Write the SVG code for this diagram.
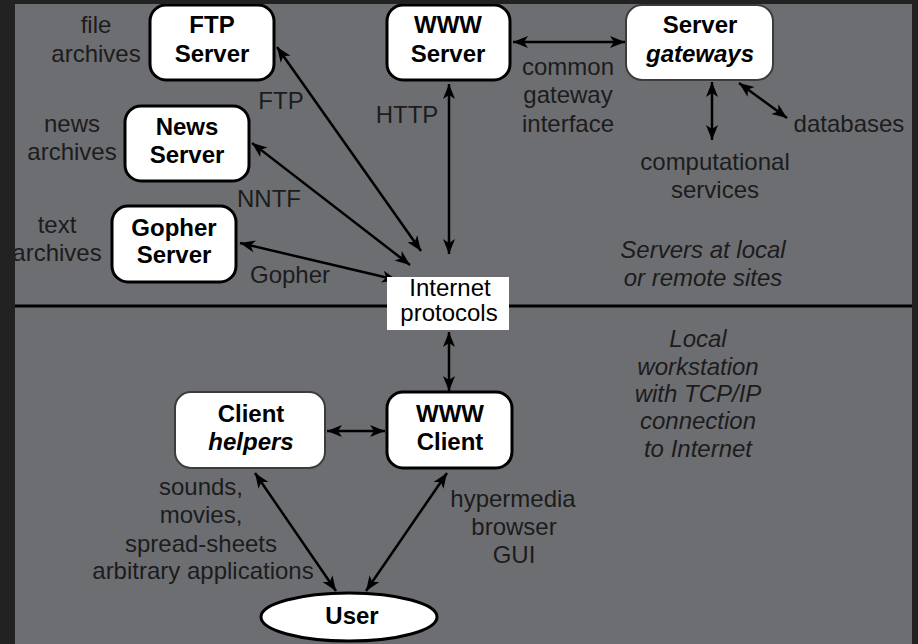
<svg xmlns="http://www.w3.org/2000/svg" width="918" height="644" viewBox="0 0 918 644">
<defs>
<style>
.lbl{font-family:"Liberation Sans",Arial,sans-serif;font-size:24px;fill:#1c1c1c;text-anchor:middle}
.it{font-style:italic}
.bt{font-family:"Liberation Sans",Arial,sans-serif;font-size:24px;font-weight:bold;fill:#000;text-anchor:middle}
.box{fill:#fff;stroke:#000;stroke-width:3}
.box2{fill:#fff;stroke:#3c3c3c;stroke-width:2}
.con{fill:none;stroke:#000;stroke-width:2.5;marker-start:url(#ah);marker-end:url(#ah)}
</style>
<marker id="ah" markerUnits="userSpaceOnUse" viewBox="-16 -7 18 14" refX="0" refY="0" markerWidth="18" markerHeight="14" orient="auto-start-reverse">
<path d="M0,0 L-15,-6 L-11,0 L-15,6 Z" fill="#000"/>
</marker>
</defs>
<rect x="0" y="0" width="918" height="644" fill="#6d6e72"/>
<line x1="15" y1="306" x2="912" y2="306" stroke="#000" stroke-width="3"/>

<g id="left-labels">
<text class="lbl" x="96" y="33">file</text>
<text class="lbl" x="96" y="62">archives</text>
<text class="lbl" x="72" y="132">news</text>
<text class="lbl" x="72" y="160">archives</text>
<text class="lbl" x="57" y="233">text</text>
<text class="lbl" x="57" y="261">archives</text>
</g>

<g id="connectors">
<line class="con" x1="277" y1="47" x2="421" y2="251"/>
<line class="con" x1="252" y1="143" x2="410" y2="265"/>
<line class="con" x1="240" y1="243" x2="397" y2="280"/>
<line class="con" x1="449" y1="84" x2="449" y2="254"/>
<line class="con" x1="513" y1="42" x2="625" y2="42"/>
<line class="con" x1="712" y1="82" x2="712" y2="140"/>
<line class="con" x1="739" y1="83" x2="787" y2="118"/>
<line class="con" x1="449" y1="332" x2="449" y2="391"/>
<line class="con" x1="327" y1="431" x2="385" y2="431"/>
<line class="con" x1="255" y1="473" x2="336" y2="591"/>
<line class="con" x1="447" y1="473" x2="366" y2="591"/>
<text class="lbl" x="281" y="109">FTP</text>
<text class="lbl" x="407" y="123">HTTP</text>
<text class="lbl" x="269" y="207">NNTF</text>
<text class="lbl" x="290" y="283">Gopher</text>
<text class="lbl" x="568" y="75">common</text>
<text class="lbl" x="568" y="103">gateway</text>
<text class="lbl" x="568" y="132">interface</text>
<text class="lbl" x="849" y="132">databases</text>
<text class="lbl" x="715" y="170">computational</text>
<text class="lbl" x="715" y="198">services</text>
<text class="lbl" x="201" y="495">sounds,</text>
<text class="lbl" x="201" y="523">movies,</text>
<text class="lbl" x="201" y="552">spread-sheets</text>
<text class="lbl" x="203" y="579">arbitrary applications</text>
<text class="lbl" x="513" y="507">hypermedia</text>
<text class="lbl" x="514" y="535">browser</text>
<text class="lbl" x="514" y="563">GUI</text>
</g>

<g id="ftp-server">
<rect class="box" x="150" y="5" width="124" height="75" rx="16"/>
<text class="bt" x="212" y="33">FTP</text>
<text class="bt" x="212" y="62">Server</text>
</g>
<g id="news-server">
<rect class="box" x="125" y="106" width="124" height="75" rx="16"/>
<text class="bt" x="187" y="135">News</text>
<text class="bt" x="187" y="163">Server</text>
</g>
<g id="gopher-server">
<rect class="box" x="112" y="206" width="124" height="76" rx="16"/>
<text class="bt" x="174" y="236">Gopher</text>
<text class="bt" x="174" y="263">Server</text>
</g>
<g id="www-server">
<rect class="box" x="387" y="5" width="123" height="75" rx="16"/>
<text class="bt" x="448" y="33">WWW</text>
<text class="bt" x="448" y="62">Server</text>
</g>
<g id="server-gateways">
<rect class="box2" x="626" y="5" width="147" height="75" rx="16"/>
<text class="bt" x="700" y="33">Server</text>
<text class="bt it" x="700" y="62">gateways</text>
</g>
<g id="internet-protocols">
<rect x="387" y="277" width="122" height="53" fill="#fff"/>
<text class="lbl" x="450" y="296" style="fill:#000">Internet</text>
<text class="lbl" x="449" y="321" style="fill:#000">protocols</text>
</g>
<g id="client-helpers">
<rect class="box2" x="175" y="392" width="150" height="76" rx="16"/>
<text class="bt" x="251" y="422">Client</text>
<text class="bt it" x="251" y="450">helpers</text>
</g>
<g id="www-client">
<rect class="box" x="387" y="392" width="125" height="76" rx="16"/>
<text class="bt" x="450" y="422">WWW</text>
<text class="bt" x="450" y="450">Client</text>
</g>
<g id="user">
<ellipse cx="349" cy="617" rx="88" ry="24" fill="#fff" stroke="#000" stroke-width="3"/>
<text class="bt" x="352" y="624">User</text>
</g>

<g id="notes">
<text class="lbl it" x="703" y="258">Servers at local</text>
<text class="lbl it" x="703" y="286">or remote sites</text>
<text class="lbl it" x="698" y="347">Local</text>
<text class="lbl it" x="698" y="375">workstation</text>
<text class="lbl it" x="698" y="402">with TCP/IP</text>
<text class="lbl it" x="698" y="429">connection</text>
<text class="lbl it" x="698" y="457">to Internet</text>
</g>

<g id="frame">
<rect x="0" y="0" width="15" height="644" fill="#222"/>
<rect x="0" y="0" width="918" height="4" fill="#222"/>
<rect x="912" y="0" width="6" height="644" fill="#222"/>
</g>
</svg>
